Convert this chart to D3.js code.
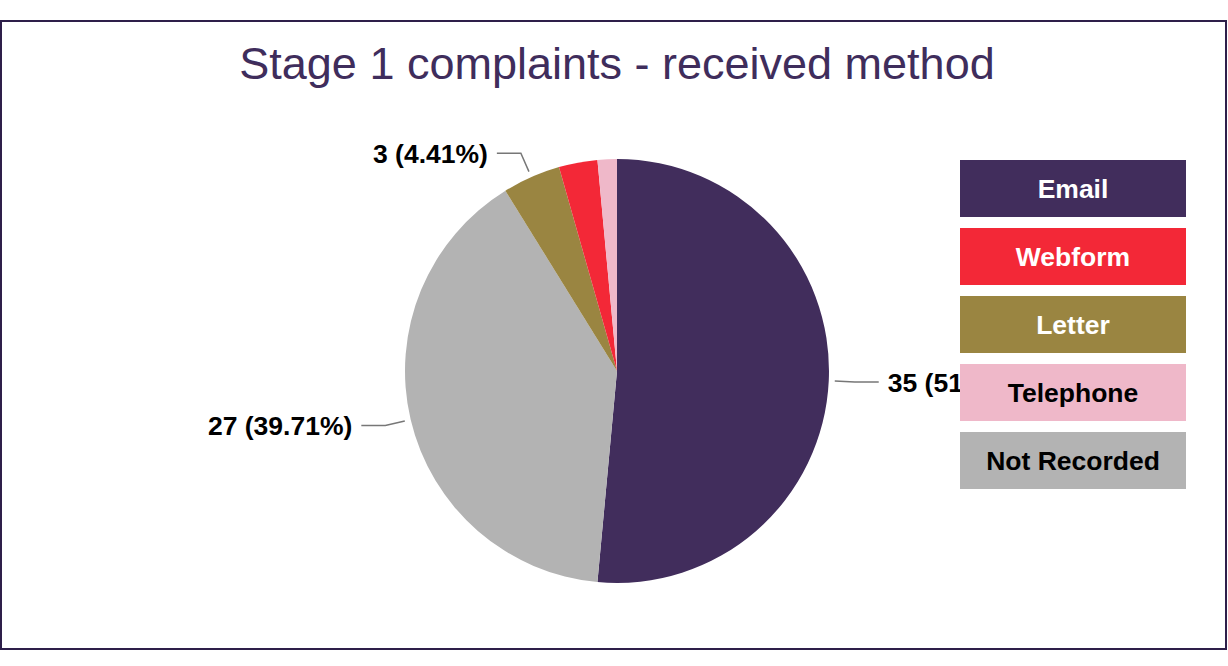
<!DOCTYPE html>
<html>
<head>
    <title>Stage 1 complaints - received method</title>
    <script src="https://d3js.org/d3.v7.min.js"></script>
    <style>
        body { margin: 0; background: #fff; font-family: "Liberation Sans", Arial, sans-serif; }
    </style>
</head>
<body>
    <div id="chart"></div>
    <script>
        // data
        const methods = ["Email", "Not Recorded", "Letter", "Webform", "Telephone"];
        const counts = [35, 27, 3, 2, 1];
        const sliceColors = ["#412d5c", "#b3b3b3", "#9a8541", "#f32837", "#efb8c9"];
        const legendOrder = ["Email", "Webform", "Letter", "Telephone", "Not Recorded"];
        const legendTextColors = ["#fff", "#fff", "#fff", "#000", "#000"];

        const width = 1228, height = 666;
        const cx = 617, cy = 371, radius = 212;

        const svg = d3.select("#chart")
            .append("svg")
            .attr("width", width)
            .attr("height", height);

        // frame
        svg.append("rect")
            .attr("x", 1).attr("y", 21)
            .attr("width", 1225).attr("height", 628)
            .attr("fill", "none")
            .attr("stroke", "#2e1f4a")
            .attr("stroke-width", 2);

        svg.append("text")
            .attr("x", cx).attr("y", 79)
            .attr("text-anchor", "middle")
            .style("font-size", "45px")
            .style("fill", "#3f2d5c")
            .text("Stage 1 complaints - received method");

        const color = d3.scaleOrdinal().domain(methods).range(sliceColors);
        const total = d3.sum(counts);
        const data = methods.map((m, i) => ({ name: m, value: counts[i] }));

        const pie = d3.pie().value(d => d.value).sort(null);
        const arcs = pie(data);
        const arc = d3.arc().innerRadius(0).outerRadius(radius);

        const g = svg.append("g").attr("transform", `translate(${cx},${cy})`);

        g.selectAll("path")
            .data(arcs)
            .enter().append("path")
            .attr("d", arc)
            .attr("fill", d => color(d.data.name));

        // labels with leader lines, only for the larger slices
        const labelled = arcs.filter(d => d.value / total > 0.04);
        labelled.forEach(d => {
            const a = (d.startAngle + d.endAngle) / 2;
            const sx = Math.sin(a), sy = -Math.cos(a);
            const p1 = [sx * (radius + 6), sy * (radius + 6)];
            const p2 = [sx * (radius + 26), sy * (radius + 26)];
            const right = sx > 0;
            const p3 = [p2[0] + (right ? 24 : -24), p2[1]];
            g.append("polyline")
                .attr("points", [p1, p2, p3].map(p => p.join(",")).join(" "))
                .attr("fill", "none")
                .attr("stroke", "#777")
                .attr("stroke-width", 1.5);
            const pct = (d.value / total * 100).toFixed(2);
            g.append("text")
                .attr("x", p3[0] + (right ? 9 : -9))
                .attr("y", p3[1])
                .attr("dy", "0.36em")
                .attr("text-anchor", right ? "start" : "end")
                .style("font-size", "26.5px")
                .style("font-weight", "bold")
                .style("fill", "#000")
                .text(`${d.value} (${pct}%)`);
        });

        // legend on top
        const ly = d3.scaleBand()
            .domain(legendOrder)
            .range([160, 489])
            .paddingInner(11 / 68)
            .paddingOuter(0);

        const legend = svg.append("g")
            .selectAll("g")
            .data(legendOrder)
            .enter().append("g")
            .attr("transform", d => `translate(960,${ly(d)})`);

        legend.append("rect")
            .attr("width", 226)
            .attr("height", ly.bandwidth())
            .attr("fill", d => color(d));

        legend.append("text")
            .attr("x", 113)
            .attr("y", ly.bandwidth() / 2)
            .attr("dy", "0.36em")
            .attr("text-anchor", "middle")
            .style("font-size", "26.5px")
            .style("font-weight", "bold")
            .style("fill", (d, i) => legendTextColors[i])
            .text(d => d);
    </script>
</body>
</html>
